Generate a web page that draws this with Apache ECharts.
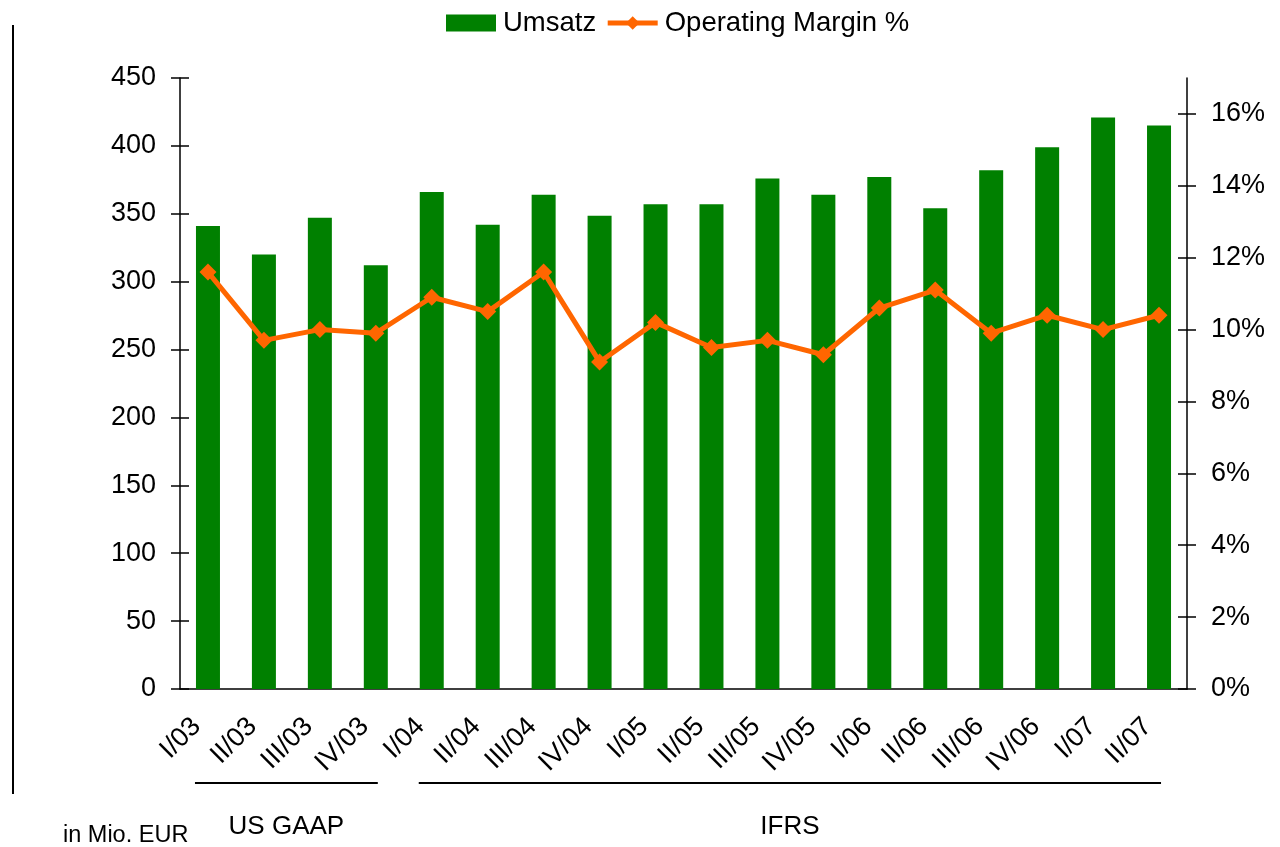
<!DOCTYPE html>
<html>
<head>
<meta charset="utf-8">
<title>Umsatz / Operating Margin</title>
<script src="https://cdn.jsdelivr.net/npm/echarts@6/dist/echarts.min.js"></script>
<style>
  html, body { margin: 0; padding: 0; background: #fff; }
  #main { width: 1280px; height: 847px; }
</style>
</head>
<body>
<div id="main"></div>
<script>
// Quartale
const quarters = ['I/03', 'II/03', 'III/03', 'IV/03', 'I/04', 'II/04', 'III/04', 'IV/04',
  'I/05', 'II/05', 'III/05', 'IV/05', 'I/06', 'II/06', 'III/06', 'IV/06', 'I/07', 'II/07'];
// Umsatz in Mio. EUR
const umsatz = [341, 320, 347, 312, 366, 342, 364, 348.5, 357, 357, 376, 364, 377, 354, 382, 399, 421, 415];
// Operating Margin in %
const margin = [11.6, 9.7, 10.0, 9.9, 10.9, 10.5, 11.6, 9.1, 10.2, 9.5, 9.7, 9.3, 10.6, 11.1, 9.9, 10.4, 10.0, 10.4];
// rechte Achse: Beschriftungen 0..16 %
const pctTicks = [0, 2, 4, 6, 8, 10, 12, 14, 16];
// Bilanzierung
const gaapRange = ['I/03', 'IV/03'];
const ifrsRange = ['I/04', 'II/07'];

const FONT = 'Liberation Sans, Arial, sans-serif';
const chart = echarts.init(document.getElementById('main'));

const tickStyle = { color: '#000', width: 1.5 };

chart.setOption({
  animation: false,
  textStyle: { fontFamily: FONT, color: '#000' },
  legend: {
    left: 446,
    top: 9,
    padding: 0,
    itemWidth: 50,
    itemHeight: 17,
    itemGap: 9,
    textStyle: { fontSize: 27.5, color: '#000', fontFamily: FONT, padding: [0, 0, 0, 2] },
    lineStyle: { width: 5 },
    data: [
      { name: 'Umsatz', icon: 'rect' },
      { name: 'Operating Margin %' }
    ]
  },
  grid: { left: 180, right: 93, top: 78, bottom: 158, containLabel: false },
  xAxis: [
    {
      type: 'category',
      data: quarters,
      position: 'bottom',
      axisLine: { lineStyle: { color: '#000', width: 1.5 } },
      axisTick: { length: 8, lineStyle: tickStyle },
      axisLabel: { rotate: 45, fontSize: 27, color: '#000', margin: 22, interval: 0,
        fontFamily: FONT, padding: [0, 16, 0, 0] }
    },
    {
      // Innenstriche, damit die Ticks die Achse kreuzen
      type: 'category',
      data: quarters,
      position: 'bottom',
      offset: 0,
      axisLine: { show: false },
      axisTick: { inside: true, length: 9, lineStyle: tickStyle },
      axisLabel: { show: false }
    }
  ],
  yAxis: [
    {
      type: 'value',
      min: 0, max: 450, interval: 50,
      position: 'left',
      axisLine: { show: true, lineStyle: { color: '#000', width: 1.5 } },
      axisTick: { show: true, length: 9, lineStyle: tickStyle },
      axisLabel: { fontSize: 27, color: '#000', margin: 24, fontFamily: FONT },
      splitLine: { show: false }
    },
    {
      type: 'value',
      min: 0, max: 17,
      position: 'right',
      axisLine: { show: true, lineStyle: { color: '#000', width: 1.5 } },
      axisTick: { show: true, length: 9, lineStyle: tickStyle, customValues: pctTicks },
      axisLabel: { fontSize: 27, color: '#000', margin: 24, fontFamily: FONT,
        customValues: pctTicks, formatter: v => v + '%' },
      splitLine: { show: false }
    },
    {
      type: 'value',
      min: 0, max: 450, interval: 50,
      position: 'left',
      offset: 0,
      axisLine: { show: false },
      axisTick: { show: true, inside: true, length: 9, lineStyle: tickStyle },
      axisLabel: { show: false },
      splitLine: { show: false }
    },
    {
      type: 'value',
      min: 0, max: 17,
      position: 'right',
      offset: 0,
      axisLine: { show: false },
      axisTick: { show: true, inside: true, length: 9, lineStyle: tickStyle, customValues: pctTicks },
      axisLabel: { show: false },
      splitLine: { show: false }
    }
  ],
  series: [
    {
      name: 'Umsatz',
      type: 'bar',
      data: umsatz,
      barWidth: 24,
      itemStyle: { color: '#008000' },
      yAxisIndex: 0
    },
    {
      name: 'Operating Margin %',
      type: 'line',
      data: margin,
      yAxisIndex: 1,
      symbol: 'diamond',
      symbolSize: 17,
      itemStyle: { color: '#ff6600' },
      lineStyle: { color: '#ff6600', width: 5 },
      z: 5
    }
  ]
});

// Klammern unter der Achse (US GAAP / IFRS), an den Kategorien ausgerichtet
const px = c => chart.convertToPixel({ xAxisIndex: 0 }, c);
const baseY = chart.convertToPixel({ yAxisIndex: 0 }, 0);
const bracketY = baseY + 94;

const bracket = (range, label) => {
  const x1 = px(range[0]) - 13;
  const x2 = px(range[1]) + 2;
  return [
    { type: 'line', shape: { x1: x1, y1: bracketY, x2: x2, y2: bracketY },
      style: { stroke: '#000', lineWidth: 2 } },
    { type: 'text', x: (x1 + x2) / 2, y: bracketY + 44,
      style: { text: label, fontSize: 26, fontFamily: FONT, fill: '#000',
        align: 'center', verticalAlign: 'middle' } }
  ];
};

chart.setOption({
  graphic: [
    { type: 'line', shape: { x1: 13, y1: 25, x2: 13, y2: 794 }, style: { stroke: '#000', lineWidth: 2 } },
    { type: 'text', x: 63, y: 836,
      style: { text: 'in Mio. EUR', fontSize: 23.5, fontFamily: FONT, fill: '#000',
        align: 'left', verticalAlign: 'middle' } }
  ].concat(bracket(gaapRange, 'US GAAP'), bracket(ifrsRange, 'IFRS'))
});
</script>
</body>
</html>
